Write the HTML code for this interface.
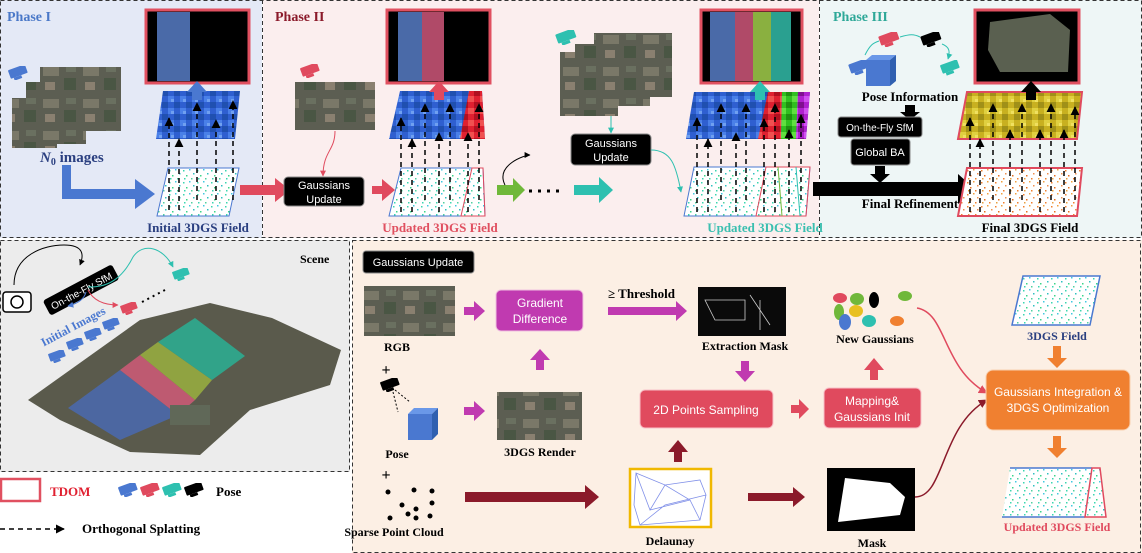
<!DOCTYPE html>
<html><head><meta charset="utf-8"><style>
html,body{margin:0;padding:0;background:#fff;}
svg{display:block}
.t{font-family:"Liberation Serif",serif;font-weight:bold}
.s{font-family:"Liberation Sans Narrow","Liberation Sans",sans-serif}
</style></head><body>
<svg width="1142" height="553" viewBox="0 0 1142 553" xmlns="http://www.w3.org/2000/svg">
<defs>
<pattern id="dots" width="14" height="12" patternUnits="userSpaceOnUse">
<rect width="14" height="12" fill="#fff"/>
<rect x="1" y="2" width="1.5" height="1.5" fill="#3bd6b0"/><rect x="7" y="1" width="1.5" height="1.5" fill="#40c8e0"/>
<rect x="4" y="7" width="1.5" height="1.5" fill="#3bd68a"/><rect x="11" y="5" width="1.5" height="1.5" fill="#30c0c0"/>
<rect x="9" y="10" width="1.5" height="1.5" fill="#50d0a0"/><rect x="2" y="10" width="1.5" height="1.5" fill="#3bd6b0"/>
</pattern>
<pattern id="odots" width="14" height="12" patternUnits="userSpaceOnUse">
<rect width="14" height="12" fill="#fff"/>
<rect x="1" y="2" width="1.5" height="1.5" fill="#f08030"/><rect x="7" y="1" width="1.5" height="1.5" fill="#f0a040"/>
<rect x="4" y="7" width="1.5" height="1.5" fill="#e87020"/><rect x="11" y="5" width="1.5" height="1.5" fill="#f09050"/>
<rect x="9" y="10" width="1.5" height="1.5" fill="#f08030"/><rect x="2" y="10" width="1.5" height="1.5" fill="#e8a040"/>
</pattern>
<pattern id="blue" width="12" height="12" patternUnits="userSpaceOnUse">
<rect width="12" height="12" fill="#2f5fd0"/><rect width="6" height="6" fill="#4a80e8"/><rect x="6" y="6" width="6" height="6" fill="#2050b0"/><rect x="3" y="3" width="3" height="3" fill="#70a0f0"/>
</pattern>
<pattern id="red" width="12" height="12" patternUnits="userSpaceOnUse">
<rect width="12" height="12" fill="#e02030"/><rect width="6" height="6" fill="#f05050"/><rect x="6" y="6" width="6" height="6" fill="#b01020"/>
</pattern>
<pattern id="green" width="12" height="12" patternUnits="userSpaceOnUse">
<rect width="12" height="12" fill="#30c020"/><rect width="6" height="6" fill="#60e040"/><rect x="6" y="6" width="6" height="6" fill="#209010"/>
</pattern>
<pattern id="purp" width="12" height="12" patternUnits="userSpaceOnUse">
<rect width="12" height="12" fill="#b020d0"/><rect width="6" height="6" fill="#d050f0"/><rect x="6" y="6" width="6" height="6" fill="#801090"/>
</pattern>
<pattern id="yel" width="12" height="12" patternUnits="userSpaceOnUse">
<rect width="12" height="12" fill="#c8b020"/><rect width="6" height="6" fill="#e0d040"/><rect x="6" y="6" width="6" height="6" fill="#a09018"/><rect x="3" y="3" width="3" height="3" fill="#f0e060"/>
</pattern>
<pattern id="aer" width="40" height="32" patternUnits="userSpaceOnUse">
<rect width="40" height="32" fill="#5c5e52"/><rect x="3" y="3" width="16" height="9" fill="#7a7868"/><rect x="24" y="14" width="12" height="12" fill="#4a5644"/><rect x="5" y="18" width="10" height="8" fill="#8a8070"/><rect x="26" y="2" width="10" height="6" fill="#6a7060"/>
</pattern>
<marker id="ab" viewBox="0 0 10 10" refX="9" refY="5" markerWidth="6" markerHeight="6" orient="auto"><path d="M0,0L10,5L0,10z" fill="#000"/></marker>
<marker id="ar" viewBox="0 0 10 10" refX="9" refY="5" markerWidth="6" markerHeight="6" orient="auto"><path d="M0,0L10,5L0,10z" fill="#e04a5e"/></marker>
<marker id="at" viewBox="0 0 10 10" refX="9" refY="5" markerWidth="6" markerHeight="6" orient="auto"><path d="M0,0L10,5L0,10z" fill="#2ec0b0"/></marker>
<marker id="ad" viewBox="0 0 10 10" refX="9" refY="5" markerWidth="6" markerHeight="6" orient="auto"><path d="M0,0L10,5L0,10z" fill="#8b1a2a"/></marker>
<marker id="abl" viewBox="0 0 10 10" refX="9" refY="5" markerWidth="6" markerHeight="6" orient="auto"><path d="M0,0L10,5L0,10z" fill="#4a78d0"/></marker>
<symbol id="cam" viewBox="0 0 20 14"><rect x="1" y="1" width="18" height="9" rx="1" transform="rotate(-20 10 6)"/><rect x="4" y="10" width="8" height="3" transform="rotate(-20 10 6)"/></symbol>
</defs>

<!-- panels -->
<rect x="0" y="0" width="262" height="238" fill="#e4e9f6"/>
<rect x="263" y="0" width="556" height="238" fill="#fbeeee"/>
<rect x="820" y="0" width="322" height="238" fill="#eef6f6"/>
<rect x="0" y="240" width="350" height="232" fill="#ececec"/>
<rect x="352" y="240" width="790" height="313" fill="#fcefe4"/>
<g fill="none" stroke="#333" stroke-dasharray="4,3" stroke-width="1">
<rect x="0.5" y="0.5" width="1141" height="237"/>
<line x1="262.5" y1="0" x2="262.5" y2="238"/><line x1="819.5" y1="0" x2="819.5" y2="238"/>
<rect x="0.5" y="240.5" width="349" height="231"/>
<rect x="352.5" y="240.5" width="788" height="312"/>
</g>

<!-- Phase I -->
<text x="7" y="21" class="t" font-size="14" fill="#4a78c8">Phase I</text>
<rect x="146" y="10" width="103" height="73" fill="#000" stroke="#e05060" stroke-width="3"/>
<rect x="157" y="12" width="33" height="69" fill="#4a6aa8"/>
<use href="#cam" x="8" y="66" width="20" height="14" fill="#4a78d0"/>
<rect x="12" y="98" width="45" height="50" fill="url(#aer)"/>
<rect x="26" y="82" width="60" height="62" fill="url(#aer)"/>
<rect x="40" y="67" width="81" height="64" fill="url(#aer)"/>
<text x="40" y="162" class="t" font-size="15" fill="#2a3f80"><tspan font-style="italic">N</tspan><tspan font-size="10" dy="3">0</tspan><tspan dy="-3"> images</tspan></text>
<path d="M62,165 h9 v24 h64 v-10 l20,15 l-20,15 v-10 h-73z" fill="#4a78d0"/>
<polygon points="163,91 240,91 235,139 156,139" fill="url(#blue)"/>
<polygon points="168,168 239,168 229,216 157,216" fill="url(#dots)" stroke="#4a78d0"/>
<path d="M192,92 h-5 l10,-11 l10,11 h-5 v8 h-10z" fill="#4a78d0"/>
<g stroke="#000" stroke-width="1.5" stroke-dasharray="5,4" marker-end="url(#ab)">
<line x1="169" y1="210" x2="169" y2="118"/><line x1="179" y1="210" x2="179" y2="139"/><line x1="197" y1="200" x2="197" y2="103"/><line x1="216" y1="200" x2="216" y2="120"/><line x1="233" y1="200" x2="233" y2="101"/>
</g>
<text x="198" y="232" class="t" font-size="13" fill="#2a3f80" text-anchor="middle">Initial 3DGS Field</text>

<!-- Phase II -->
<text x="275" y="21" class="t" font-size="14" fill="#8b1a2a">Phase II</text>
<path d="M240,185 h35 v-7 l15,12 l-15,12 v-7 h-35z" fill="#e04a5e"/>
<use href="#cam" x="300" y="64" width="20" height="14" fill="#e04a5e"/>
<rect x="295" y="82" width="80" height="48" fill="url(#aer)"/>
<path d="M335,131 c0,20 -12,20 -12,45" fill="none" stroke="#e04a5e" marker-end="url(#ar)"/>
<rect x="284" y="177" width="80" height="29" rx="4" fill="#000" stroke="#888"/>
<text x="324" y="189" class="s" font-size="11" fill="#fff" text-anchor="middle">Gaussians</text>
<text x="324" y="203" class="s" font-size="11" fill="#fff" text-anchor="middle">Update</text>
<path d="M372,186 h10 v-7 l13,11 l-13,11 v-7 h-10z" fill="#e04a5e"/>
<rect x="387" y="10" width="103" height="73" fill="#000" stroke="#e05060" stroke-width="3"/>
<rect x="398" y="12" width="24" height="69" fill="#4a6aa8"/><rect x="422" y="12" width="22" height="69" fill="#b04a68"/>
<polygon points="400,91 482,91 485,139 389,139" fill="url(#blue)"/>
<polygon points="469,91 482,91 485,139 460,139" fill="url(#red)"/>
<polygon points="401,168 483,168 485,216 389,216" fill="url(#dots)" stroke="#4a78d0"/>
<polygon points="472,168 483,168 485,216 461,216" fill="none" stroke="#e04a5e"/>
<path d="M434,92 h-5 l10,-11 l10,11 h-5 v8 h-10z" fill="#e04a5e"/>
<g stroke="#000" stroke-width="1.5" stroke-dasharray="5,4" marker-end="url(#ab)">
<line x1="401" y1="212" x2="401" y2="118"/><line x1="412" y1="212" x2="412" y2="139"/><line x1="425" y1="200" x2="425" y2="104"/><line x1="439" y1="212" x2="439" y2="133"/><line x1="450" y1="200" x2="450" y2="104"/><line x1="468" y1="212" x2="468" y2="133"/><line x1="479" y1="200" x2="479" y2="104"/>
</g>
<text x="440" y="232" class="t" font-size="13" fill="#e05060" text-anchor="middle">Updated 3DGS Field</text>

<path d="M497,185 h16 v-7 l12,12 l-12,12 v-7 h-16z" fill="#70b83a"/>
<path d="M505,185 c-10,-20 20,-30 25,-30" fill="none" stroke="#000" marker-end="url(#ab)"/>
<line x1="529" y1="191" x2="565" y2="191" stroke="#000" stroke-width="3" stroke-dasharray="3,6"/>
<path d="M574,185 h25 v-8 l14,13 l-14,13 v-8 h-25z" fill="#2ec0b0"/>
<use href="#cam" x="555" y="30" width="22" height="15" fill="#2ec0b0"/>
<rect x="560" y="52" width="58" height="64" fill="url(#aer)"/>
<rect x="575" y="44" width="75" height="62" fill="url(#aer)"/>
<rect x="594" y="33" width="78" height="64" fill="url(#aer)"/>
<line x1="611" y1="116" x2="611" y2="133" stroke="#2ec0b0" marker-end="url(#at)"/>
<rect x="571" y="134" width="80" height="31" rx="4" fill="#000" stroke="#888"/>
<text x="611" y="147" class="s" font-size="11" fill="#fff" text-anchor="middle">Gaussians</text>
<text x="611" y="161" class="s" font-size="11" fill="#fff" text-anchor="middle">Update</text>
<path d="M651,150 c20,0 25,15 30,42" fill="none" stroke="#2ec0b0" marker-end="url(#at)"/>
<rect x="701" y="10" width="101" height="73" fill="#000" stroke="#e05060" stroke-width="3"/>
<rect x="710" y="12" width="25" height="69" fill="#4a6aa8"/><rect x="735" y="12" width="18" height="69" fill="#b04a68"/><rect x="753" y="12" width="18" height="69" fill="#8ab040"/><rect x="771" y="12" width="20" height="69" fill="#2aa090"/>
<polygon points="694,92 810,92 806,139 686,139" fill="url(#blue)"/>
<polygon points="768,92 782,92 781,139 758,139" fill="url(#red)"/>
<polygon points="782,92 798,92 796,139 781,139" fill="url(#green)"/>
<polygon points="798,92 810,92 806,139 796,139" fill="url(#purp)"/>
<polygon points="694,167 810,167 806,216 684,216" fill="url(#dots)" stroke="#4a78d0"/>
<polygon points="766,167 810,167 806,216 756,216" fill="none" stroke="#e04a5e"/>
<line x1="778" y1="167" x2="782" y2="216" stroke="#70b83a"/><line x1="796" y1="167" x2="800" y2="216" stroke="#2ec0b0"/>
<path d="M755,92 h-5 l10,-11 l10,11 h-5 v8 h-10z" fill="#2ec0b0"/>
<g stroke="#000" stroke-width="1.5" stroke-dasharray="5,4" marker-end="url(#ab)">
<line x1="697" y1="212" x2="697" y2="118"/><line x1="708" y1="212" x2="708" y2="139"/><line x1="721" y1="200" x2="721" y2="104"/><line x1="736" y1="212" x2="736" y2="133"/><line x1="746" y1="200" x2="746" y2="104"/><line x1="764" y1="212" x2="764" y2="119"/><line x1="775" y1="212" x2="775" y2="104"/><line x1="789" y1="212" x2="789" y2="130"/><line x1="801" y1="200" x2="801" y2="115"/>
</g>
<text x="765" y="232" class="t" font-size="13" fill="#3bbfb0" text-anchor="middle">Updated 3DGS Field</text>

<!-- Phase III -->
<text x="833" y="21" class="t" font-size="14" fill="#2ea898">Phase III</text>
<use href="#cam" x="848" y="60" width="22" height="15" fill="#4a78d0"/>
<use href="#cam" x="878" y="32" width="22" height="15" fill="#e04a5e"/>
<use href="#cam" x="920" y="32" width="22" height="15" fill="#000"/>
<use href="#cam" x="940" y="60" width="20" height="16" fill="#2ec0b0"/>
<path d="M865,55 c5,-10 8,-12 14,-14 M900,37 c10,-3 14,-3 20,0 M942,44 c8,3 8,8 6,15" fill="none" stroke="#2ec0b0" marker-end="url(#at)"/>
<polygon points="866,60 890,60 890,86 866,86" fill="#4a78d0"/><polygon points="866,60 872,55 896,55 890,60" fill="#6a98e8"/><polygon points="890,60 896,55 896,81 890,86" fill="#3060b0"/>
<text x="910" y="101" class="t" font-size="13" fill="#000" text-anchor="middle">Pose Information</text>
<path d="M905,105 h10 v7 h5 l-10,8 l-10,-8 h5z" fill="#000"/>
<rect x="838" y="117" width="84" height="20" rx="3" fill="#000" stroke="#888"/>
<text x="880" y="131" class="s" font-size="10" fill="#fff" text-anchor="middle">On-the-Fly SfM</text>
<rect x="851" y="139" width="59" height="26" rx="3" fill="#000" stroke="#888"/>
<text x="880" y="156" class="s" font-size="11" fill="#fff" text-anchor="middle">Global BA</text>
<path d="M875,166 h10 v8 h5 l-10,9 l-10,-9 h5z" fill="#000"/>
<path d="M813,182 h145 v-8 l17,15 l-17,15 v-8 h-145z" fill="#000"/>
<rect x="975" y="10" width="104" height="73" fill="#000" stroke="#e05060" stroke-width="3"/>
<polygon points="990,22 1050,14 1070,30 1068,72 1000,72 988,50" fill="#5a6050"/>
<polygon points="967,92 1082,92 1077,139 958,139" fill="url(#yel)" stroke="#e04a5e" stroke-width="2"/>
<polygon points="967,168 1082,168 1077,216 958,216" fill="url(#odots)" stroke="#e04a5e" stroke-width="2"/>
<text x="910" y="208" class="t" font-size="13" fill="#000" text-anchor="middle">Final Refinement</text>
<path d="M1026,92 h-5 l10,-11 l10,11 h-5 v8 h-10z" fill="#000"/>
<g stroke="#000" stroke-width="1.5" stroke-dasharray="5,4" marker-end="url(#ab)">
<line x1="970" y1="212" x2="970" y2="118"/><line x1="980" y1="212" x2="980" y2="139"/><line x1="993" y1="200" x2="993" y2="104"/><line x1="1010" y1="212" x2="1010" y2="130"/><line x1="1022" y1="200" x2="1022" y2="104"/><line x1="1040" y1="212" x2="1040" y2="130"/><line x1="1051" y1="200" x2="1051" y2="104"/><line x1="1064" y1="212" x2="1064" y2="130"/><line x1="1075" y1="200" x2="1075" y2="107"/>
</g>
<text x="1030" y="232" class="t" font-size="13" fill="#000" text-anchor="middle">Final 3DGS Field</text>

<!-- Scene -->
<text x="300" y="263" class="t" font-size="12" fill="#000">Scene</text>
<polygon points="28,400 140,320 210,303 272,318 341,350 330,385 250,410 200,455 130,452 60,420" fill="#5a5a4c"/>
<polygon points="68,408 120,370 178,415 120,440" fill="#4a6ab0" opacity=".85"/>
<polygon points="120,370 140,355 195,400 178,415" fill="#d05a78" opacity=".85"/>
<polygon points="140,355 158,342 212,380 195,400" fill="#9ab040" opacity=".85"/>
<polygon points="158,342 195,318 245,356 212,380" fill="#2ab094" opacity=".85"/>
<rect x="170" y="405" width="40" height="20" fill="#606858"/>
<g transform="rotate(-28 80 290)"><rect x="42" y="282" width="78" height="17" rx="3" fill="#000"/><text x="81" y="295" class="s" font-size="10" fill="#fff" text-anchor="middle">On-the-Fly SfM</text></g>
<path d="M14,285 c0,-30 30,-40 50,-40 c20,0 20,10 16,20" fill="none" stroke="#000" marker-end="url(#ab)"/>
<rect x="3" y="292" width="28" height="20" rx="3" fill="#fff" stroke="#000" stroke-width="1.5"/><circle cx="17" cy="302" r="6" fill="none" stroke="#000" stroke-width="1.5"/>
<path d="M88,287 c10,0 30,0 45,-30 c10,-15 30,-10 40,10" fill="none" stroke="#2ec0b0" marker-end="url(#at)"/>
<path d="M88,290 c5,10 15,15 30,15" fill="none" stroke="#e04a5e" marker-end="url(#ar)"/>
<path d="M86,292 c-2,8 -10,12 -18,14" fill="none" stroke="#4a78d0" marker-end="url(#abl)"/>
<text x="75" y="330" class="t" font-size="12" fill="#4a78d0" transform="rotate(-28 75 330)" text-anchor="middle">Initial Images</text>
<use href="#cam" x="48" y="350" width="18" height="13" fill="#4a78d0"/>
<use href="#cam" x="66" y="338" width="18" height="13" fill="#4a78d0"/>
<use href="#cam" x="84" y="328" width="18" height="13" fill="#4a78d0"/>
<use href="#cam" x="102" y="318" width="18" height="13" fill="#4a78d0"/>
<use href="#cam" x="120" y="302" width="18" height="13" fill="#e04a5e"/>
<use href="#cam" x="172" y="268" width="18" height="13" fill="#2ec0b0"/>
<line x1="142" y1="302" x2="165" y2="290" stroke="#000" stroke-width="2" stroke-dasharray="2,4"/>

<!-- legend -->
<rect x="1" y="479" width="39" height="22" fill="#fff" stroke="#e05060" stroke-width="2.5"/>
<text x="50" y="496" class="t" font-size="13" fill="#e02030">TDOM</text>
<use href="#cam" x="118" y="483" width="20" height="14" fill="#4a78d0"/>
<use href="#cam" x="140" y="483" width="20" height="14" fill="#e04a5e"/>
<use href="#cam" x="162" y="483" width="20" height="14" fill="#2ec0b0"/>
<use href="#cam" x="184" y="483" width="20" height="14" fill="#000"/>
<text x="216" y="496" class="t" font-size="13" fill="#000">Pose</text>
<line x1="0" y1="529" x2="64" y2="529" stroke="#000" stroke-width="1.5" stroke-dasharray="5,4" marker-end="url(#ab)"/>
<text x="82" y="533" class="t" font-size="13" fill="#000">Orthogonal Splatting</text>

<!-- Gaussians Update detail -->
<rect x="363" y="251" width="111" height="22" rx="3" fill="#000" stroke="#888"/>
<text x="418" y="266" class="s" font-size="11" fill="#fff" text-anchor="middle">Gaussians Update</text>
<rect x="364" y="286" width="91" height="50" fill="url(#aer)"/>
<text x="397" y="351" class="t" font-size="12" text-anchor="middle">RGB</text>
<text x="386" y="375" class="t" font-size="16" text-anchor="middle">+</text>
<use href="#cam" x="380" y="378" width="20" height="14" fill="#000"/>
<line x1="395" y1="390" x2="410" y2="402" stroke="#000" stroke-dasharray="2,2"/><line x1="393" y1="392" x2="398" y2="412" stroke="#000" stroke-dasharray="2,2"/>
<polygon points="408,414 432,414 432,440 408,440" fill="#4a78d0"/><polygon points="408,414 414,408 438,408 432,414" fill="#6a98e8"/><polygon points="432,414 438,408 438,434 432,440" fill="#3060b0"/>
<text x="397" y="458" class="t" font-size="12" text-anchor="middle">Pose</text>
<text x="386" y="480" class="t" font-size="16" text-anchor="middle">+</text>
<g fill="#000"><circle cx="388" cy="492" r="2.5"/><circle cx="414" cy="490" r="2.5"/><circle cx="432" cy="491" r="2.5"/><circle cx="402" cy="505" r="2.5"/><circle cx="416" cy="509" r="2.5"/><circle cx="432" cy="503" r="2.5"/><circle cx="390" cy="518" r="2.5"/><circle cx="408" cy="514" r="2.5"/><circle cx="416" cy="518" r="2.5"/><circle cx="430" cy="516" r="2.5"/></g>
<text x="394" y="536" class="t" font-size="12" text-anchor="middle">Sparse Point Cloud</text>

<g fill="#c03ab0">
<path d="M464,307 h10 v-6 l11,10 l-11,10 v-6 h-10z"/>
<path d="M464,407 h10 v-6 l11,10 l-11,10 v-6 h-10z"/>
<path d="M536,370 v-10 h-6 l10,-11 l10,11 h-6 v10z"/>
<path d="M608,307 h68 v-6 l11,10 l-11,10 v-6 h-68z"/>
<path d="M741,361 v10 h-6 l10,11 l10,-11 h-6 v-10z"/>
</g>
<rect x="496" y="290" width="87" height="41" rx="5" fill="#c03ab0" stroke="#f0c0e0"/>
<text x="540" y="307" class="s" font-size="12" fill="#fff" text-anchor="middle">Gradient</text>
<text x="540" y="323" class="s" font-size="12" fill="#fff" text-anchor="middle">Difference</text>
<rect x="497" y="392" width="85" height="48" fill="url(#aer)"/>
<text x="540" y="456" class="t" font-size="12" text-anchor="middle">3DGS Render</text>
<text x="608" y="298" class="t" font-size="13">≥ Threshold</text>
<rect x="698" y="287" width="88" height="49" fill="#0a0a0a"/>
<path d="M705,300 h40 v20 h-30z M750,295 l20,30 M760,300 v30" stroke="#ccc" stroke-width="0.8" fill="none"/>
<text x="745" y="350" class="t" font-size="12" text-anchor="middle">Extraction Mask</text>
<rect x="640" y="390" width="133" height="38" rx="5" fill="#e04a5e" stroke="#f8c0c8"/>
<text x="706" y="414" class="s" font-size="12" fill="#fff" text-anchor="middle">2D Points Sampling</text>
<path d="M791,405 h8 v-6 l10,10 l-10,10 v-6 h-8z" fill="#e04a5e"/>
<rect x="824" y="388" width="97" height="40" rx="5" fill="#e04a5e" stroke="#f8c0c8"/>
<text x="872" y="405" class="s" font-size="12" fill="#fff" text-anchor="middle">Mapping&amp;</text>
<text x="872" y="421" class="s" font-size="12" fill="#fff" text-anchor="middle">Gaussians Init</text>
<path d="M870,380 v-10 h-6 l10,-12 l10,12 h-6 v10z" fill="#e04a5e"/>
<g><ellipse cx="840" cy="298" rx="7" ry="5" fill="#e04a5e"/><ellipse cx="857" cy="299" rx="7" ry="6" fill="#70b83a"/><ellipse cx="874" cy="300" rx="5" ry="8" fill="#000"/><ellipse cx="905" cy="296" rx="7" ry="5" fill="#70b83a"/><ellipse cx="839" cy="312" rx="5" ry="8" fill="#70b83a"/><ellipse cx="856" cy="311" rx="7" ry="6" fill="#e8c020"/><ellipse cx="845" cy="322" rx="6" ry="8" fill="#4a78d0"/><ellipse cx="869" cy="321" rx="7" ry="6" fill="#2ec0b0"/><ellipse cx="897" cy="321" rx="7" ry="5" fill="#f08030"/></g>
<text x="875" y="343" class="t" font-size="12" text-anchor="middle">New Gaussians</text>
<path d="M917,308 c30,5 25,60 70,85" fill="none" stroke="#e04a5e" stroke-width="1.5" marker-end="url(#ar)"/>
<path d="M915,497 c30,0 25,-70 72,-97" fill="none" stroke="#8b1a2a" stroke-width="1.5" marker-end="url(#ad)"/>
<rect x="986" y="370" width="144" height="60" rx="7" fill="#f08030" stroke="#f8d0b0"/>
<text x="1058" y="396" class="s" font-size="12" fill="#fff" text-anchor="middle">Gaussians Integration &amp;</text>
<text x="1058" y="412" class="s" font-size="12" fill="#fff" text-anchor="middle">3DGS Optimization</text>
<polygon points="1023,276 1100,276 1090,325 1012,325" fill="url(#dots)" stroke="#4a78d0" stroke-width="1.5"/>
<text x="1057" y="340" class="t" font-size="12" fill="#2a3f80" text-anchor="middle">3DGS Field</text>
<path d="M1053,346 v12 h-6 l10,10 l10,-10 h-6 v-12z" fill="#f08030"/>
<path d="M1053,436 v12 h-6 l10,10 l10,-10 h-6 v-12z" fill="#f08030"/>
<polygon points="1010,468 1100,468 1106,517 1002,517" fill="url(#dots)"/>
<line x1="1010" y1="468" x2="1092" y2="468" stroke="#4a78d0" stroke-width="1.5"/><line x1="1002" y1="517" x2="1085" y2="517" stroke="#4a78d0" stroke-width="1.5"/>
<polygon points="1092,468 1100,468 1106,517 1085,517" fill="none" stroke="#e04a5e" stroke-width="1.5"/>
<text x="1057" y="531" class="t" font-size="12" fill="#e04a5e" text-anchor="middle">Updated 3DGS Field</text>
<path d="M465,492 h120 v-7 l14,12 l-14,12 v-7 h-120z" fill="#8b1a2a"/>
<path d="M674,462 v-10 h-6 l10,-12 l10,12 h-6 v10z" fill="#8b1a2a"/>
<path d="M748,493 h45 v-6 l12,10 l-12,10 v-6 h-45z" fill="#8b1a2a"/>
<rect x="630" y="469" width="81" height="58" fill="#fff" stroke="#f0b800" stroke-width="2.5"/>
<path d="M636,473 L665,485 L700,480 L706,495 L700,520 L640,525 L634,505z M636,473 L650,510 L665,485 L690,500 L700,520 M640,525 L665,505 L706,495 M650,510 L690,500" fill="none" stroke="#8090e8" stroke-width="0.8"/>
<text x="670" y="545" class="t" font-size="12" text-anchor="middle">Delaunay</text>
<rect x="827" y="468" width="88" height="63" fill="#000"/>
<polygon points="845,478 890,483 905,497 900,515 838,522" fill="#fff"/>
<text x="872" y="547" class="t" font-size="12" text-anchor="middle">Mask</text>
</svg>
</body></html>
